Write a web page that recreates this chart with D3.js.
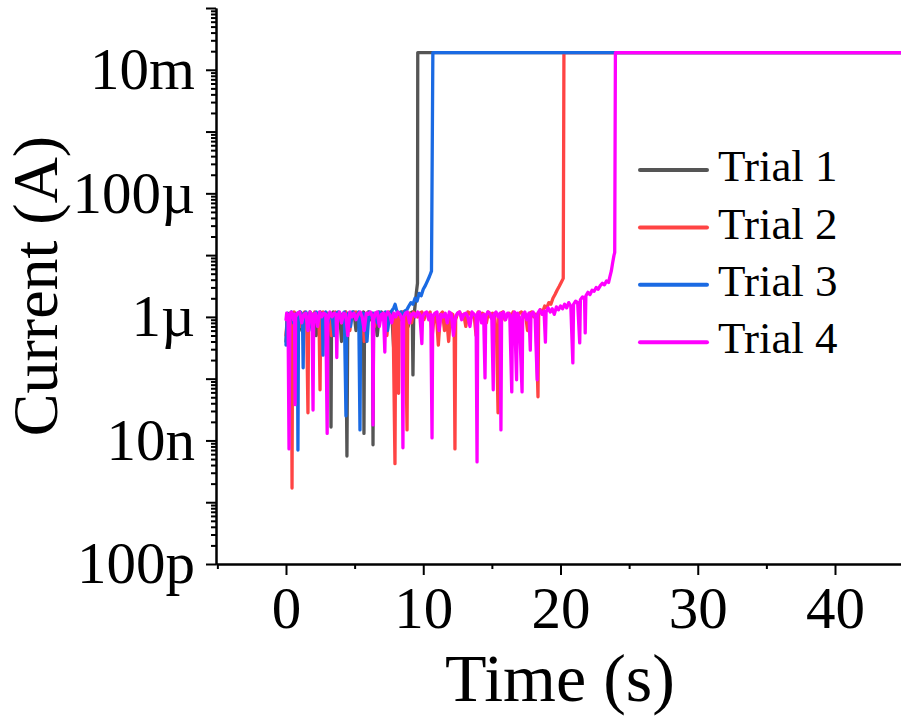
<!DOCTYPE html>
<html>
<head>
<meta charset="utf-8">
<script src="https://cdn.jsdelivr.net/npm/d3@7"></script>
<style>
  body { margin: 0; background: #fff; }
  svg { display: block; }
</style>
</head>
<body>
<div class="chart"></div>
<script>
// time in s, current in nA
const trialNames = ["Trial 1", "Trial 2", "Trial 3", "Trial 4"]
const trialColors = ["#555555", "#ff4444", "#1a6ae3", "#ff00ff"]

const trial1Time = [0.0, 0.1, 0.25, 0.4, 0.55, 0.7, 0.85, 1.0, 1.15, 1.3, 1.45, 1.6, 1.75, 1.9, 2.05, 2.2, 2.35, 2.5, 2.65, 2.8, 2.95, 3.1, 3.25, 3.28, 3.32, 3.45, 3.6, 3.75, 3.9, 4.05, 4.2, 4.35, 4.44, 4.5, 4.65, 4.8, 4.95, 5.1, 5.25, 5.4, 5.55, 5.65, 5.68, 5.72, 5.85, 6.0, 6.15, 6.3, 6.34, 6.38, 6.5, 6.65, 6.8, 6.95, 7.1, 7.25, 7.4, 7.55, 7.7, 7.85, 8.0, 8.15, 8.3, 8.45, 8.6, 8.75, 8.9, 9.05, 9.2, 9.25, 9.3, 9.4, 9.5, 9.58, 9.6, 50]
const trial1Current = [400, 1100, 900, 1150, 700, 1100, 1000, 1200, 600, 1100, 1150, 800, 1200, 1000, 1150, 500, 1100, 1200, 900, 1150, 1100, 1000, 1150, 16.5, 1000, 1200, 700, 1100, 1150, 400, 1100, 1200, 5.6, 900, 1150, 1000, 1200, 600, 1100, 1150, 1000, 1200, 13, 800, 1100, 1200, 900, 1100, 8.5, 1000, 1150, 500, 1100, 1200, 1000, 1150, 800, 1100, 1200, 300, 1100, 1150, 900, 1200, 1000, 1100, 700, 1150, 1200, 115, 900, 1500, 2500, 3500, 1.9e7, 1.9e7]

const trial2Time = [0.0, 0.1, 0.25, 0.4, 0.44, 0.48, 0.6, 0.75, 0.9, 1.05, 1.2, 1.35, 1.5, 1.6, 1.65, 1.8, 1.95, 2.1, 2.25, 2.4, 2.48, 2.53, 2.7, 2.85, 3.0, 3.15, 3.3, 3.45, 3.6, 3.75, 3.9, 4.05, 4.2, 4.35, 4.5, 4.65, 4.8, 4.95, 5.1, 5.25, 5.4, 5.55, 5.7, 5.85, 6.0, 6.15, 6.3, 6.45, 6.6, 6.75, 6.9, 7.05, 7.2, 7.35, 7.5, 7.65, 7.8, 7.94, 7.99, 8.1, 8.2, 8.25, 8.4, 8.55, 8.7, 8.82, 8.87, 9.0, 9.15, 9.3, 9.45, 9.6, 9.75, 9.9, 10.05, 10.2, 10.35, 10.5, 10.65, 10.8, 10.95, 11.1, 11.25, 11.4, 11.55, 11.7, 11.85, 12.0, 12.15, 12.25, 12.31, 12.36, 12.5, 12.65, 12.8, 12.95, 13.1, 13.25, 13.4, 13.55, 13.7, 13.85, 14.0, 14.15, 14.3, 14.45, 14.6, 14.75, 14.9, 15.05, 15.2, 15.35, 15.45, 15.5, 15.65, 15.8, 15.95, 16.1, 16.25, 16.4, 16.55, 16.7, 16.85, 17.0, 17.15, 17.3, 17.45, 17.6, 17.75, 17.9, 18.05, 18.2, 18.36, 18.41, 18.55, 18.7, 18.85, 19.0, 19.15, 19.3, 19.45, 19.6, 19.75, 19.9, 20.05, 20.2, 20.25, 50]
const trial2Current = [500, 1000, 1150, 1100, 1.7, 900, 1200, 1000, 1150, 700, 1100, 1200, 1000, 28, 1100, 1150, 800, 1200, 1000, 1150, 66, 1100, 1200, 900, 1150, 1000, 500, 1100, 1200, 1000, 1150, 800, 1100, 1200, 1000, 600, 1150, 1100, 1200, 900, 1100, 1150, 400, 1100, 1200, 1000, 1150, 700, 1100, 1200, 1000, 1150, 1100, 500, 1200, 1000, 1150, 4.2, 900, 1100, 58, 1000, 1150, 1200, 1000, 14.8, 1100, 1150, 800, 1200, 1100, 1000, 1150, 1200, 900, 1150, 1100, 1200, 500, 1000, 1150, 350, 1100, 1200, 600, 1000, 400, 1150, 1100, 800, 7.3, 900, 1150, 1200, 1000, 1100, 700, 1200, 1150, 1000, 1100, 500, 1200, 1000, 1150, 1100, 800, 1200, 1000, 1150, 1100, 400, 28, 1000, 1150, 1200, 900, 1100, 1150, 1000, 1200, 700, 1100, 1150, 1200, 1000, 1100, 600, 1150, 1200, 1000, 1100, 51, 1150, 1300, 1200, 1500, 1400, 1700, 1600, 2000, 2300, 2700, 3100, 3600, 4200, 1.9e7, 1.9e7]

const trial3Time = [0.0, 0.1, 0.25, 0.4, 0.55, 0.7, 0.83, 0.87, 0.91, 1.05, 1.2, 1.25, 1.3, 1.45, 1.6, 1.75, 1.9, 2.05, 2.2, 2.35, 2.5, 2.65, 2.7, 2.75, 2.9, 3.05, 3.2, 3.35, 3.5, 3.65, 3.8, 3.95, 4.1, 4.25, 4.37, 4.42, 4.55, 4.7, 4.85, 5.0, 5.15, 5.3, 5.39, 5.44, 5.6, 5.75, 5.9, 6.05, 6.2, 6.35, 6.5, 6.65, 6.8, 6.95, 7.1, 7.25, 7.4, 7.55, 7.7, 7.85, 7.95, 8.05, 8.2, 8.35, 8.5, 8.65, 8.8, 8.95, 9.1, 9.25, 9.4, 9.55, 9.7, 9.85, 10.0, 10.15, 10.3, 10.45, 10.6, 10.7, 50]
const trial3Current = [350, 1150, 1000, 1200, 800, 1100, 1150, 7, 900, 1200, 1000, 150, 1100, 1200, 900, 1150, 600, 1100, 1200, 1000, 1150, 1100, 240, 1000, 1200, 800, 1150, 1100, 500, 1150, 1200, 900, 1100, 1200, 25, 1000, 1150, 700, 1200, 1100, 1000, 1200, 14.8, 900, 1150, 1100, 400, 1200, 1000, 1150, 1100, 800, 1200, 1150, 1000, 1200, 600, 1100, 1250, 1400, 1600, 1300, 1100, 1200, 1000, 1250, 1300, 1500, 1700, 1600, 2000, 1800, 2400, 2200, 2800, 3200, 3800, 4500, 5500, 1.9e7, 1.9e7]

const trial4Time = [0.0, 0.05, 0.15, 0.22, 0.28, 0.4, 0.55, 0.62, 0.66, 0.7, 0.85, 1.0, 1.15, 1.3, 1.45, 1.6, 1.75, 1.9, 1.97, 2.02, 2.15, 2.3, 2.45, 2.6, 2.75, 2.9, 3.0, 3.05, 3.2, 3.35, 3.5, 3.65, 3.7, 3.75, 3.9, 4.05, 4.2, 4.35, 4.5, 4.65, 4.8, 4.95, 5.1, 5.25, 5.4, 5.55, 5.7, 5.85, 6.0, 6.15, 6.3, 6.34, 6.39, 6.5, 6.65, 6.8, 6.95, 7.1, 7.2, 7.25, 7.4, 7.55, 7.7, 7.85, 8.0, 8.15, 8.3, 8.45, 8.52, 8.57, 8.7, 8.85, 9.0, 9.15, 9.3, 9.45, 9.6, 9.75, 9.9, 9.95, 10.1, 10.25, 10.4, 10.55, 10.64, 10.69, 10.85, 11.0, 11.15, 11.3, 11.45, 11.6, 11.75, 11.9, 12.05, 12.2, 12.35, 12.5, 12.65, 12.8, 12.95, 13.1, 13.25, 13.4, 13.55, 13.7, 13.85, 13.92, 13.97, 14.1, 14.25, 14.4, 14.5, 14.55, 14.7, 14.85, 15.0, 15.1, 15.15, 15.3, 15.45, 15.6, 15.66, 15.71, 15.85, 16.0, 16.15, 16.3, 16.45, 16.5, 16.65, 16.8, 16.85, 17.0, 17.2, 17.25, 17.4, 17.55, 17.7, 17.8, 17.85, 18.0, 18.15, 18.3, 18.35, 18.5, 18.65, 18.8, 18.9, 18.95, 19.1, 19.25, 19.4, 19.55, 19.7, 19.85, 20.0, 20.15, 20.3, 20.45, 20.6, 20.75, 20.9, 20.95, 21.1, 21.25, 21.4, 21.45, 21.6, 21.75, 21.8, 21.85, 22.0, 22.15, 22.3, 22.45, 22.6, 22.75, 22.9, 23.05, 23.2, 23.35, 23.5, 23.6, 23.7, 23.8, 23.9, 23.95, 24.0, 50]
const trial4Current = [900, 1150, 1000, 7.3, 1100, 1200, 900, 1100, 38, 1000, 1150, 1200, 800, 1100, 1150, 600, 1200, 1000, 31, 1100, 1150, 700, 1200, 1000, 1150, 1100, 13, 900, 1200, 1000, 1150, 1100, 220, 1000, 1200, 800, 1150, 1100, 500, 1200, 1000, 1150, 900, 1100, 1200, 1000, 600, 1150, 1100, 1200, 1000, 17.8, 900, 1150, 1200, 700, 1100, 1150, 270, 1000, 1200, 1100, 800, 1150, 1000, 1200, 1100, 900, 7.6, 1000, 1150, 1200, 800, 1100, 1150, 1000, 1200, 1100, 370, 1000, 1150, 1200, 900, 1100, 11, 1000, 1150, 1200, 600, 1100, 1000, 1150, 800, 1200, 1100, 500, 1000, 1150, 1200, 900, 1100, 1150, 1000, 700, 1200, 1100, 1000, 4.5, 1150, 1200, 800, 1100, 103, 1000, 1200, 1150, 900, 66, 1100, 1200, 1000, 1150, 14.8, 1100, 1200, 900, 1150, 1100, 61, 1000, 1200, 96, 1150, 1000, 61, 1100, 1200, 900, 1150, 290, 1100, 1200, 1000, 96, 1150, 1300, 1100, 1250, 390, 1200, 1400, 1200, 1350, 1100, 1450, 1300, 1500, 1350, 1600, 1400, 1700, 1500, 180, 1600, 1800, 1700, 380, 1900, 2100, 2000, 550, 2200, 2500, 2300, 2700, 2600, 3000, 2800, 3200, 3500, 3300, 3800, 3600, 4500, 5500, 7500, 10000, 11000, 1.9e7, 1.9e7]

const xMajorTicks = [0, 10, 20, 30, 40]
const xMinorTicks = [-5, 5, 15, 25, 35, 45]
const yMajorTicks = [1e-10, 1e-9, 1e-8, 1e-7, 1e-6, 1e-5, 1e-4, 1e-3, 1e-2, 1e-1]
const yTickLabels = {"1e-10": "100p", "1e-8": "10n", "1e-6": "1µ", "1e-4": "100µ", "1e-2": "10m"}

const width = 901
const height = 724
const font = "'Liberation Serif', 'Times New Roman', serif"

const x = d3.scaleLinear()
  .domain([-5.1, 45])
  .range([216, 216 + 50.1 * 13.725])

const y = d3.scaleLog()
  .domain([1e-10, 1e-1])
  .range([564, 8])

const svg = d3.select(".chart").append("svg")
  .attr("width", width)
  .attr("height", height)

// minor ticks on the log axis: 2..9 in each decade
const yMinorTicks = []
yMajorTicks.slice(0, -1).forEach(function(d) {
  for (let k = 2; k <= 9; k++) yMinorTicks.push(d * k)
})

// data lines, drawn first so the axes stay on top
const trials = [
  {time: trial1Time, current: trial1Current},
  {time: trial2Time, current: trial2Current},
  {time: trial3Time, current: trial3Current},
  {time: trial4Time, current: trial4Current}
]

const line = d3.line()
  .x(function(d) { return x(d[0]) })
  .y(function(d) { return y(d[1] * 1e-9) })

svg.append("defs").append("clipPath")
  .attr("id", "plotArea")
  .append("rect")
  .attr("x", 216)
  .attr("y", 0)
  .attr("width", width - 216)
  .attr("height", 564)

svg.append("g")
  .attr("clip-path", "url(#plotArea)")
  .selectAll("path")
  .data(trials)
  .enter()
  .append("path")
  .attr("d", function(d) { return line(d.time.map(function(t, i) { return [t, d.current[i]] })) })
  .attr("fill", "none")
  .attr("stroke", function(d, i) { return trialColors[i] })
  .attr("stroke-width", 3.3)
  .attr("stroke-linejoin", "round")
  .attr("stroke-linecap", "round")

// axes
function styleAxis(g) {
  g.selectAll("path, line")
    .attr("stroke", "#000")
    .attr("stroke-width", 2)
  g.selectAll("text")
    .attr("fill", "#000")
    .style("font-family", font)
    .style("font-size", "59px")
}

svg.append("g")
  .attr("transform", "translate(0,564)")
  .call(d3.axisBottom(x).tickValues(xMinorTicks).tickSize(5).tickSizeOuter(0).tickFormat(""))
  .call(styleAxis)

svg.append("g")
  .attr("transform", "translate(0,564)")
  .call(d3.axisBottom(x).tickValues(xMajorTicks).tickSize(11).tickSizeOuter(0).tickPadding(11))
  .call(styleAxis)

svg.append("g")
  .attr("transform", "translate(216,0)")
  .call(d3.axisLeft(y).tickValues(yMinorTicks).tickSize(5).tickSizeOuter(0).tickFormat(""))
  .call(styleAxis)

svg.append("g")
  .attr("transform", "translate(216,0)")
  .call(d3.axisLeft(y).tickValues(yMajorTicks).tickSize(10).tickSizeOuter(0).tickPadding(11)
    .tickFormat(function(d) { return yTickLabels[d.toExponential()] || "" }))
  .call(styleAxis)

// axis titles
svg.append("text")
  .attr("x", 560)
  .attr("y", 701)
  .attr("text-anchor", "middle")
  .style("font-family", font)
  .style("font-size", "68px")
  .attr("fill", "#000")
  .text("Time (s)")

svg.append("text")
  .attr("transform", "translate(57,286) rotate(-90)")
  .attr("text-anchor", "middle")
  .style("font-family", font)
  .style("font-size", "64px")
  .attr("fill", "#000")
  .text("Current (A)")

// legend
const legend = svg.append("g")
  .selectAll("g")
  .data(trialNames)
  .enter()
  .append("g")
  .attr("transform", function(d, i) { return "translate(640," + (170 + i * 57.4) + ")" })

legend.append("line")
  .attr("x1", 0)
  .attr("x2", 67)
  .attr("stroke", function(d, i) { return trialColors[i] })
  .attr("stroke-width", 4)
  .attr("stroke-linecap", "round")

legend.append("text")
  .attr("x", 78)
  .attr("dy", "0.25em")
  .style("font-family", font)
  .style("font-size", "45px")
  .attr("fill", "#000")
  .text(function(d) { return d })
</script>
</body>
</html>
